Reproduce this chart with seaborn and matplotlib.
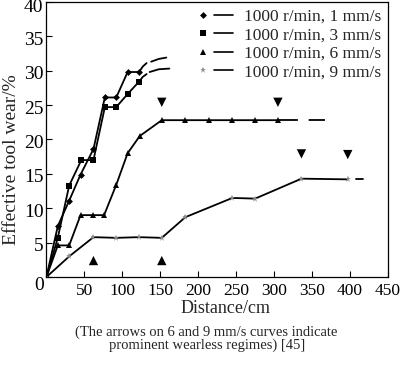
import matplotlib
matplotlib.use("Agg")
import matplotlib.pyplot as plt
from matplotlib.lines import Line2D
from matplotlib.legend_handler import HandlerTuple
from matplotlib.transforms import ScaledTranslation
import seaborn as sns
import numpy as np

sns.set_theme(style="white")
plt.rcParams["font.family"] = ["Liberation Serif", "DejaVu Serif"]
plt.rcParams["mathtext.fontset"] = "stix"

# ---- data ----
labels = ["1000 r/min, 1 mm/s", "1000 r/min, 3 mm/s",
          "1000 r/min, 6 mm/s", "1000 r/min, 9 mm/s"]

x1 = [0, 15, 30, 45, 62, 77, 92, 107, 122]
y1 = [0, 7.4, 11.1, 14.9, 18.6, 26.1, 26.1, 29.8, 29.8]
x1_solid_ext = [122, 127, 132]
y1_solid_ext = [29.8, 30.6, 31.1]
x1_dash = [138, 148, 158]
y1_dash = [31.3, 31.7, 31.9]

x3 = [0, 15, 30, 46, 62, 77, 92, 107, 122]
y3 = [0, 5.7, 13.3, 17.0, 17.0, 24.7, 24.7, 26.6, 28.4]
x3_solid_ext = [122, 127, 132]
y3_solid_ext = [28.4, 29.1, 29.5]
x3_dash = [136, 148, 162]
y3_dash = [29.8, 30.2, 30.3]

x6 = [0, 15, 30, 45, 61, 76, 92, 107, 123, 152, 183, 214, 244, 275, 305]
y6 = [0, 4.6, 4.6, 9.0, 9.0, 9.0, 13.4, 18.0, 20.5, 22.8, 22.8, 22.8, 22.8, 22.8, 22.8]
x6_ext = [305, 380]
y6_ext = [22.8, 22.8]

x9 = [0, 30, 62, 92, 122, 152, 183, 245, 275, 336, 397]
y9 = [0, 3.0, 5.8, 5.7, 5.8, 5.7, 8.7, 11.5, 11.4, 14.3, 14.2]
x9_ext = [408, 417]
y9_ext = [14.2, 14.2]

# arrows marking wearless regimes
down_x = [152, 305, 336, 397]
down_y = [25.4, 25.4, 17.9, 17.8]
up_x = [62, 152]
up_y = [2.4, 2.4]

xticks = [0, 50, 100, 150, 200, 250, 300, 350, 400, 450]
xticklabels = ["", "50", "100", "150", "200", "250", "300", "350", "400", "450"]
yticks = [0, 5, 10, 15, 20, 25, 30, 35, 40]

# ---- figure ----
fig = plt.figure(figsize=(4.0, 3.66), dpi=100)
ax = fig.add_axes([0.116, 0.243, 0.854, 0.752])

lw = 1.3
grey = "#8a8a8a"
sns.lineplot(x=x1, y=y1, ax=ax, color="black", lw=lw, marker="D", markersize=3.5,
             markeredgewidth=0, sort=False)
sns.lineplot(x=x1_solid_ext, y=y1_solid_ext, ax=ax, color="black", lw=lw, sort=False)
sns.lineplot(x=x1_dash, y=y1_dash, ax=ax, color="black", lw=lw, sort=False)

sns.lineplot(x=x3, y=y3, ax=ax, color="black", lw=lw, marker="s", markersize=5,
             markeredgewidth=0, sort=False)
sns.lineplot(x=x3_solid_ext, y=y3_solid_ext, ax=ax, color="black", lw=lw, sort=False)
sns.lineplot(x=x3_dash, y=y3_dash, ax=ax, color="black", lw=lw, sort=False)

sns.lineplot(x=x6, y=y6, ax=ax, color="black", lw=lw, marker="^", markersize=5,
             markeredgewidth=0, sort=False)
l6 = sns.lineplot(x=x6_ext, y=y6_ext, ax=ax, color="black", lw=lw, sort=False).lines[-1]
l6.set_dashes([11, 6, 9, 7, 10, 50])

sns.lineplot(x=x9, y=y9, ax=ax, color="black", lw=lw, marker="*", markersize=4.5,
             markeredgewidth=0, markerfacecolor=grey, sort=False)
sns.lineplot(x=x9_ext, y=y9_ext, ax=ax, color="black", lw=lw, sort=False)

sns.scatterplot(x=down_x, y=down_y, ax=ax, marker="v", s=45, color="black",
                edgecolor="none", zorder=5)
sns.scatterplot(x=up_x, y=up_y, ax=ax, marker="^", s=45, color="black",
                edgecolor="none", zorder=5)

ax.set_xlim(0, 450)
ax.set_ylim(0, 40)
ax.set_xticks(xticks)
ax.set_xticklabels(xticklabels)
ax.set_yticks(yticks)
ax.tick_params(direction="in", length=4, width=0.8, pad=2,
               bottom=True, left=True, colors="black")
ax.tick_params(axis="x", labelsize=12.5, pad=4.5)
ax.tick_params(axis="y", labelsize=14, pad=2)
# nudge y tick labels down slightly like the reference
offsets = {0: -6, 40: -4}
for v, lab in zip(yticks, ax.get_yticklabels()):
    dy = offsets.get(v, -2) / 100.0
    lab.set_transform(lab.get_transform() + ScaledTranslation(0, dy, fig.dpi_scale_trans))
for s in ax.spines.values():
    s.set_color("black")
    s.set_linewidth(0.9)
ax.set_xlabel("Distance/cm", fontsize=13)
ax.set_ylabel("Effective tool wear/%", fontsize=14)
ax.xaxis.set_label_coords(0.523, -0.082)
ax.yaxis.set_label_coords(-0.076, 0.425)

markers = ["D", "s", "^", "*"]
msizes = [3.5, 4.5, 4.5, 4.5]
mcolors = ["black", "black", "black", grey]
handles = []
for m, ms, mc in zip(markers, msizes, mcolors):
    h_m = Line2D([], [], marker=m, ls="none", markersize=ms, color=mc,
                 markeredgewidth=0)
    h_l = Line2D([], [], color="black", lw=1.2)
    handles.append((h_m, h_l))
ax.legend(handles, labels, handler_map={tuple: HandlerTuple(ndivide=None, pad=0.1)},
          loc="upper right", frameon=False, fontsize=12.5, handlelength=2.3,
          handletextpad=0.6, labelspacing=0.13, borderaxespad=0.2,
          borderpad=0.2)

fig.text(0.515, 0.093, "(The arrows on 6 and 9 mm/s curves indicate",
         ha="center", va="center", fontsize=10.5)
fig.text(0.518, 0.057, "prominent wearless regimes) [45]",
         ha="center", va="center", fontsize=10.5)

fig.savefig("out.png", dpi=100, facecolor="white")
